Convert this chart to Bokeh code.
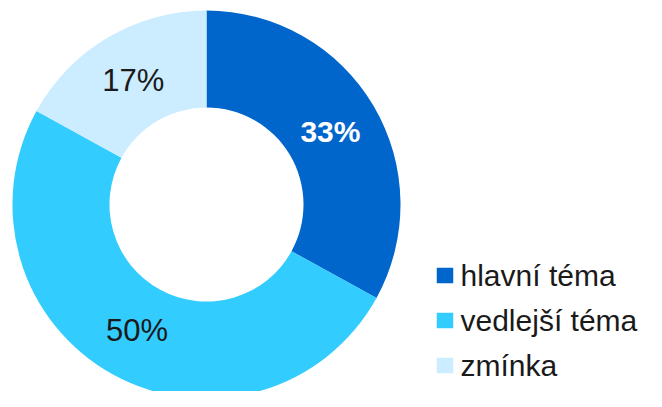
import numpy as np
from bokeh.plotting import figure
from bokeh.models import ColumnDataSource, Range1d
from bokeh.core.properties import value
from bokeh.embed import file_html
from bokeh.resources import INLINE

categories = ["hlavní téma", "vedlejší téma", "zmínka"]
shares = [33, 50, 17]
labels = ["33%", "50%", "17%"]
colors = ["#0066CC", "#33CCFF", "#CCECFF"]
label_colors = ["#FFFFFF", "#1A1A1A", "#1A1A1A"]
label_styles = ["bold", "normal", "normal"]
label_sizes = ["30px", "31px", "31px"]

W, H = 646, 391
p = figure(width=W, height=H, output_backend="svg", toolbar_location=None,
           x_range=Range1d(0, W), y_range=Range1d(0, H), min_border=0)
p.axis.visible = False
p.grid.visible = False
p.outline_line_color = None
p.background_fill_color = "white"
p.border_fill_color = "white"

def fy(y_from_top):
    return H - y_from_top

cx, cy = 206, fy(204)
r_out, r_in = 194, 97

vals = np.array(shares, dtype=float)
frac = vals / vals.sum()
cum_end = np.cumsum(frac)
cum_start = cum_end - frac
start = np.pi / 2 - 2 * np.pi * cum_end
end = np.pi / 2 - 2 * np.pi * cum_start
mid = (start + end) / 2

src = ColumnDataSource(dict(start=start, end=end, color=colors, cat=categories))
p.annular_wedge(x=cx, y=cy, inner_radius=r_in, outer_radius=r_out,
                start_angle="start", end_angle="end", direction="anticlock",
                fill_color="color", line_color=None, source=src)

r_lab = 144
lsrc = ColumnDataSource(dict(x=cx + r_lab * np.cos(mid), y=cy + r_lab * np.sin(mid),
                             text=labels, color=label_colors, style=label_styles,
                             size=label_sizes))
p.text(x="x", y="y", text="text", text_color="color", text_font_style="style",
       text_font=value("Liberation Sans"), text_font_size="size",
       text_align="center", text_baseline="middle", source=lsrc)

# legend
n = len(categories)
idx = np.arange(n)
sq_y = fy(275 + 45 * idx)
p.rect(x=444.5, y=sq_y, width=16.5, height=15.5, fill_color=colors, line_color=None)
p.text(x=460, y=sq_y, text=categories, text_color="#1A1A1A",
       text_font=value("Liberation Sans"), text_font_size="30px",
       text_align="left", text_baseline="middle")

open("out.html", "w").write(file_html(p, INLINE))
